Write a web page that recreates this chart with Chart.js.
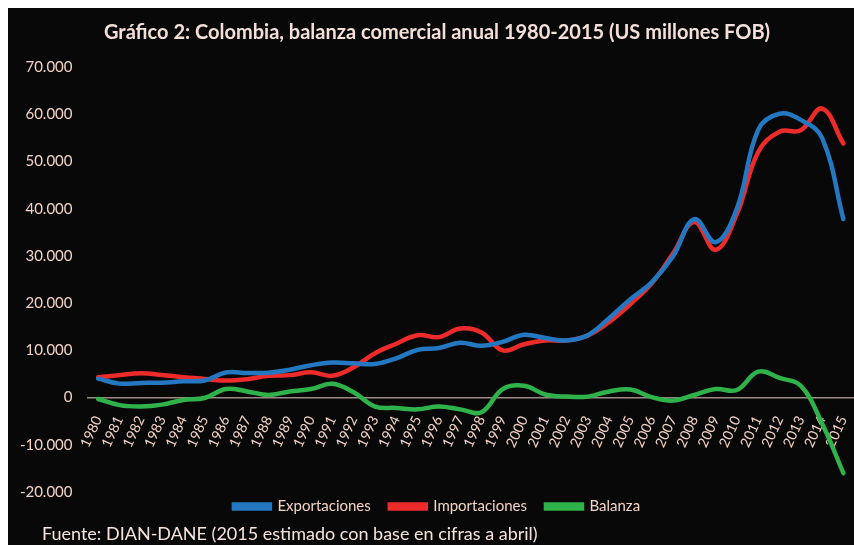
<!DOCTYPE html>
<html>
<head>
<meta charset="utf-8">
<script src="https://cdn.jsdelivr.net/npm/chart.js@4"></script>
<style>
  html, body { margin: 0; padding: 0; background: #ffffff; }
  #frame {
    position: absolute; left: 8px; top: 8px;
    width: 846px; height: 537px;
    background: #080808; overflow: hidden;
  }
  #source {
    position: absolute; left: 34px; top: 514px;
    font-family: Lato, sans-serif; font-size: 18px;
    color: #f4e4dc; white-space: nowrap;
  }
</style>
</head>
<body>
<div id="frame">
  <canvas id="balanza" width="846" height="537"></canvas>
  <div id="source">Fuente: DIAN-DANE (2015 estimado con base en cifras a abril)</div>
</div>
<script>
// Colombia, balanza comercial anual 1980-2015 (US millones FOB)
const years = ['1980', '1981', '1982', '1983', '1984', '1985', '1986', '1987', '1988', '1989',
               '1990', '1991', '1992', '1993', '1994', '1995', '1996', '1997', '1998', '1999',
               '2000', '2001', '2002', '2003', '2004', '2005', '2006', '2007', '2008', '2009',
               '2010', '2011', '2012', '2013', '2014', '2015'];

const exportaciones = [4000, 2950, 3100, 3150, 3450, 3600, 5300, 5200, 5250, 5900,
                       6850, 7400, 7250, 7100, 8300, 10100, 10500, 11600, 10950, 11800,
                       13300, 12600, 12100, 13200, 16800, 20800, 24400, 29900, 37800, 32900,
                       40000, 56700, 60100, 58800, 55000, 37800];

const importaciones = [4300, 4750, 5150, 4800, 4300, 3950, 3600, 3900, 4600, 4750,
                       5350, 4600, 6400, 9400, 11400, 13200, 12800, 14600, 13800, 10000,
                       11300, 12100, 12100, 13150, 16000, 19800, 24200, 30500, 37200, 31300,
                       38900, 52000, 56300, 56600, 61200, 53800];

const balanza = [-300, -1600, -1900, -1500, -500, -100, 1800, 1300, 550, 1300,
                 1800, 2900, 1100, -1900, -2200, -2500, -1900, -2500, -3100, 1800,
                 2500, 650, 200, 200, 1300, 1700, 100, -650, 550, 1800,
                 1600, 5500, 4150, 2500, -5500, -16000];

const yTicks = [-20000, -10000, 0, 10000, 20000, 30000, 40000, 50000, 60000, 70000];

const tickColor = '#f2d3c4';

function series(label, data, color) {
    return {
        label: label,
        data: data,
        borderColor: color,
        backgroundColor: color,
        borderWidth: 4.5,
        borderCapStyle: 'round',
        pointRadius: 0,
        pointHoverRadius: 0,
        tension: 0.4,
        fill: false
    };
}

// the legend sits closer under the plot than Chart.js puts it
const legendLift = {
    id: 'legendLift',
    afterLayout(chart) {
        chart.legend.top -= 12;
        chart.legend.bottom -= 12;
    }
};

const ctx = document.getElementById('balanza').getContext('2d');
new Chart(ctx, {
    type: 'line',
    data: {
        labels: years,
        datasets: [
            series('Exportaciones', exportaciones, '#2478c2'),
            series('Importaciones', importaciones, '#ec2b2a'),
            series('Balanza', balanza, '#2fb24a')
        ]
    },
    plugins: [legendLift],
    options: {
        responsive: false,
        animation: false,
        layout: {
            padding: { left: 12, right: 0, top: 0, bottom: 9 }
        },
        scales: {
            x: {
                type: 'category',
                offset: true,
                position: { y: 0 },
                grid: { display: false, drawTicks: false },
                border: { display: true, color: '#9c8a84', width: 1.5 },
                afterFit: axis => {
                    axis.paddingLeft = 0;
                    axis.paddingRight = 0;
                },
                ticks: {
                    autoSkip: false,
                    minRotation: 65,
                    maxRotation: 65,
                    padding: 16,
                    color: tickColor,
                    font: { family: 'Lato', size: 14 }
                }
            },
            y: {
                min: -20000,
                max: 70000,
                afterBuildTicks: axis => {
                    axis.ticks = yTicks.map(v => ({ value: v }));
                },
                afterFit: axis => {
                    axis.width = 67.5;
                },
                grid: { display: false, drawTicks: false },
                border: { display: false },
                ticks: {
                    padding: 15,
                    color: tickColor,
                    font: { family: 'Lato', size: 15 },
                    callback: v => v.toLocaleString('de-DE')
                }
            }
        },
        plugins: {
            title: {
                display: true,
                text: 'Gráfico 2: Colombia, balanza comercial anual 1980-2015 (US millones FOB)',
                color: '#f4e0d8',
                font: { family: 'Lato', size: 20, weight: 'bold' },
                padding: { top: 13, bottom: 22 }
            },
            legend: {
                position: 'bottom',
                labels: {
                    boxWidth: 36,
                    boxHeight: 4,
                    padding: 19,
                    color: tickColor,
                    font: { family: 'Lato', size: 15 }
                }
            },
            tooltip: { enabled: false }
        }
    }
});
</script>
</body>
</html>
